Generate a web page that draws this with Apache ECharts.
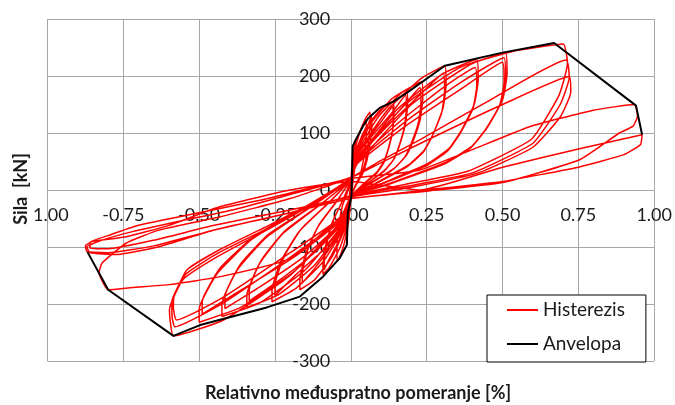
<!DOCTYPE html>
<html>
<head>
<meta charset="utf-8">
<script src="https://cdn.jsdelivr.net/npm/echarts@6/dist/echarts.min.js"></script>
<style>
  html, body { margin: 0; padding: 0; background: #fff; }
  #chart { width: 675px; height: 405px; }
</style>
</head>
<body>
<div id="chart"></div>
<script>
// Drift [%] / force [kN] pairs, one array per loading stage.
const stageSmall = [
  [0,0],[0.004,40],[0.012,80],[0.015,88],[0.016,70],[0.012,35],[0.006,10],[0,-10],[-0.004,-35],[-0.01,-62],[-0.012,-70],[-0.012,-55],[-0.008,-25],[-0.003,0],[0,15],
  [0.004,45],[0.02,85],[0.038,112],[0.05,123],[0.051,105],[0.045,65],[0.03,25],[0.012,5],[0,-15],[-0.006,-50],[-0.02,-90],[-0.035,-115],[-0.045,-125],[-0.046,-105],[-0.04,-65],[-0.028,-28],[-0.012,-5],[0,18]
];
const stage010 = [
  [0.005,50],[0.025,95],[0.048,125],[0.063,137],[0.064,117],[0.058,85],[0.05,55],[0.038,32],[0.015,8],[0,-12],[-0.008,-55],[-0.035,-100],[-0.07,-135],[-0.092,-148],[-0.092,-133],[-0.081,-93],[-0.06,-55],[-0.024,-15],[0,20],
  [0.005,45],[0.03,80],[0.055,112],[0.068,130],[0.069,110],[0.063,80],[0.053,52],[0.04,30],[0.016,7],[0,-12],[-0.01,-50],[-0.04,-90],[-0.07,-120],[-0.088,-140],[-0.088,-126],[-0.077,-88],[-0.057,-52],[-0.023,-14],[0,18]
];
const stage015 = [
  [0.006,55],[0.05,110],[0.1,142],[0.14,156],[0.142,133],[0.137,103],[0.123,72],[0.109,50],[0.085,31],[0.034,7],[0,-12],[-0.01,-55],[-0.06,-115],[-0.12,-158],[-0.168,-175],[-0.168,-158],[-0.148,-110],[-0.109,-65],[-0.044,-18],[0,20],
  [0.006,50],[0.05,85],[0.1,120],[0.138,146],[0.14,124],[0.135,96],[0.121,67],[0.108,47],[0.084,29],[0.033,6],[0,-12],[-0.01,-50],[-0.06,-95],[-0.12,-138],[-0.16,-163],[-0.16,-147],[-0.141,-103],[-0.104,-60],[-0.042,-16],[0,20]
];
const stage020 = [
  [0.008,55],[0.07,120],[0.135,160],[0.184,176],[0.187,150],[0.18,116],[0.162,81],[0.144,56],[0.112,35],[0.045,8],[0,-12],[-0.012,-55],[-0.09,-125],[-0.18,-172],[-0.26,-196],[-0.26,-176],[-0.229,-123],[-0.169,-72],[-0.068,-20],[0,20],
  [0.008,50],[0.07,95],[0.135,135],[0.18,166],[0.183,141],[0.176,110],[0.158,76],[0.14,53],[0.11,33],[0.044,8],[0,-12],[-0.012,-50],[-0.09,-105],[-0.18,-148],[-0.25,-185],[-0.25,-166],[-0.22,-117],[-0.163,-68],[-0.065,-18],[0,20]
];
const stage025 = [
  [0.01,55],[0.09,128],[0.17,172],[0.234,190],[0.237,161],[0.229,125],[0.206,87],[0.183,61],[0.143,38],[0.055,9],[0,-12],[-0.015,-55],[-0.12,-132],[-0.24,-184],[-0.343,-206],[-0.343,-185],[-0.302,-130],[-0.223,-76],[-0.089,-21],[0,20],
  [0.01,50],[0.09,100],[0.17,145],[0.228,180],[0.231,153],[0.223,119],[0.2,83],[0.178,58],[0.139,36],[0.055,8],[0,-12],[-0.015,-50],[-0.12,-110],[-0.24,-160],[-0.335,-195],[-0.335,-175],[-0.295,-123],[-0.218,-72],[-0.087,-20],[0,20]
];
const stage030 = [
  [0.012,55],[0.12,140],[0.23,195],[0.31,218],[0.314,185],[0.304,144],[0.273,100],[0.242,70],[0.19,44],[0.075,10],[0,-12],[-0.02,-55],[-0.15,-140],[-0.3,-198],[-0.425,-222],[-0.425,-200],[-0.374,-140],[-0.276,-82],[-0.11,-22],[0,20],
  [0.012,50],[0.12,112],[0.23,168],[0.305,205],[0.309,174],[0.299,135],[0.268,94],[0.238,66],[0.186,41],[0.075,9],[0,-12],[-0.02,-50],[-0.15,-115],[-0.3,-170],[-0.415,-208],[-0.415,-187],[-0.365,-131],[-0.27,-77],[-0.108,-21],[0,20]
];
const stage040 = [
  [0.015,50],[0.15,140],[0.3,203],[0.415,229],[0.42,195],[0.407,151],[0.365,105],[0.324,73],[0.253,46],[0.1,11],[0,-12],[-0.02,-50],[-0.18,-140],[-0.36,-205],[-0.5,-232],[-0.5,-209],[-0.44,-146],[-0.325,-86],[-0.13,-23],[0,20],
  [0.015,48],[0.15,115],[0.3,178],[0.41,215],[0.415,183],[0.402,142],[0.36,99],[0.32,69],[0.25,43],[0.1,10],[0,-12],[-0.02,-48],[-0.18,-115],[-0.36,-175],[-0.49,-218],[-0.49,-196],[-0.431,-137],[-0.318,-81],[-0.127,-22],[0,20]
];
const stage050 = [
  [0.018,50],[0.18,150],[0.36,215],[0.51,240],[0.515,205],[0.5,158],[0.45,110],[0.4,77],[0.31,48],[0.13,12],[0,-12],[-0.025,-50],[-0.2,-150],[-0.42,-228],[-0.585,-256],[-0.595,-232],[-0.598,-210],[-0.553,-157],[-0.44,-117],[-0.276,-70],[-0.12,-22],[0,22],
  [0.018,48],[0.18,120],[0.36,188],[0.505,232],[0.51,198],[0.495,153],[0.445,107],[0.395,74],[0.31,46],[0.13,11],[0,-12],[-0.025,-48],[-0.2,-118],[-0.42,-198],[-0.58,-240],[-0.59,-218],[-0.59,-196],[-0.545,-148],[-0.435,-110],[-0.27,-66],[-0.115,-20],[0,22],
  [0.018,45],[0.18,112],[0.36,176],[0.5,224],[0.505,190],[0.49,148],[0.44,103],[0.39,72],[0.305,45],[0.125,10],[0,-12],[-0.025,-45],[-0.2,-110],[-0.42,-188],[-0.575,-228],[-0.585,-206],[-0.583,-186],[-0.54,-140],[-0.43,-104],[-0.27,-62],[-0.11,-18],[0,22]
];
const stage075 = [
  [0.02,45],[0.2,150],[0.4,222],[0.55,245],[0.7,256],[0.714,222],[0.686,166],[0.595,89],[0.385,33],[0.21,13],[0,-12],[-0.03,-45],[-0.2,-120],[-0.43,-152],[-0.6,-166],[-0.72,-171],[-0.8,-175],[-0.83,-145],[-0.82,-128],[-0.74,-93],[-0.63,-70],[-0.43,-47],[-0.2,-15],[0,22],
  [0.1,52],[0.227,88],[0.45,155],[0.71,228],[0.72,198],[0.69,150],[0.6,82],[0.4,30],[0.2,8],[0,-10],[-0.2,-40],[-0.45,-70],[-0.63,-99],[-0.77,-113],[-0.86,-110],[-0.87,-100],[-0.82,-88],[-0.72,-73],[-0.54,-52],[-0.39,-35],[-0.2,-8],[0,22],
  [0.1,48],[0.3,100],[0.5,150],[0.72,199],[0.725,172],[0.69,128],[0.6,75],[0.42,30],[0.2,5],[0,-12],[-0.2,-35],[-0.45,-62],[-0.65,-88],[-0.8,-103],[-0.86,-102],[-0.86,-92],[-0.8,-80],[-0.7,-62],[-0.5,-40],[-0.3,-18],[0,20]
];
const stage100 = [
  [0.227,35],[0.589,111],[0.8,140],[0.935,150],[0.945,130],[0.93,112],[0.885,100],[0.754,53],[0.5,13],[0.25,-2],[0,-15],[-0.2,-40],[-0.45,-70],[-0.65,-98],[-0.8,-110],[-0.87,-108],[-0.875,-98],[-0.85,-90],[-0.74,-82],[-0.6,-62],[-0.43,-29],[-0.2,0],[0,15],
  [0.227,0],[0.5,40],[0.75,72],[0.96,97],[0.955,80],[0.9,62],[0.75,40],[0.5,15],[0.25,0],[0,-15]
];

// Envelope of the peak responses
const envelope = [
  [-0.868,-109],[-0.8,-175],[-0.585,-256],[-0.497,-237],[-0.277,-206],[-0.168,-187],[-0.092,-152],
  [-0.036,-119],[-0.013,-96],[-0.01,-40],[0.002,-11],[0.006,77],[0.019,91],[0.04,112],[0.057,126],
  [0.095,144],[0.14,155],[0.183,170],[0.31,218],[0.5,241],[0.67,258],[0.94,148],[0.96,97]
];

const xTicks = [-1, -0.75, -0.5, -0.25, 0, 0.25, 0.5, 0.75, 1];
const yTicks = [-300, -200, -100, 0, 100, 200, 300];
const seriesNames = ['Histerezis', 'Anvelopa'];
const xTitle = 'Relativno međuspratno pomeranje [%]';
const yTitle = 'Sila  [kN]';

const hysteresis = [].concat(stageSmall, stage010, stage015, stage020, stage025,
                             stage030, stage040, stage050, stage075, stage100);

const FONT = 'Lato, "Open Sans", sans-serif';
const GRID_COLOR = '#a6a6a6';

// Plot rectangle; the axes cross at the origin, so each axis is shifted
// from the plot edge to the zero line of the other one.
const PLOT = { left: 47.5, top: 19, width: 607.5, height: 342 };
const xZeroOffset = -PLOT.height * (0 - yTicks[0]) / (yTicks[yTicks.length - 1] - yTicks[0]);
const yZeroOffset = -PLOT.width * (0 - xTicks[0]) / (xTicks[xTicks.length - 1] - xTicks[0]);

const chart = echarts.init(document.getElementById('chart'), null, { renderer: 'canvas' });
chart.setOption({
  animation: false,
  backgroundColor: '#ffffff',
  grid: { left: PLOT.left, top: PLOT.top, width: PLOT.width, height: PLOT.height, containLabel: false },
  xAxis: {
    type: 'value', position: 'bottom', offset: xZeroOffset,
    min: xTicks[0], max: xTicks[xTicks.length - 1], interval: 0.25,
    axisLine: { show: true, onZero: false, lineStyle: { color: GRID_COLOR, width: 1 } },
    axisTick: { show: false },
    splitLine: { show: true, lineStyle: { color: GRID_COLOR, width: 1 } },
    axisLabel: {
      margin: 16, color: '#1a1a1a', fontFamily: FONT, fontSize: 18,
      formatter: v => v.toFixed(2)
    }
  },
  yAxis: {
    type: 'value', position: 'left', offset: yZeroOffset,
    min: yTicks[0], max: yTicks[yTicks.length - 1], interval: 100,
    axisLine: { show: true, onZero: false, lineStyle: { color: GRID_COLOR, width: 1 } },
    axisTick: { show: false },
    splitLine: { show: true, lineStyle: { color: GRID_COLOR, width: 1 } },
    axisLabel: {
      margin: 21, color: '#1a1a1a', fontFamily: FONT, fontSize: 18,
      formatter: v => String(v)
    }
  },
  legend: {
    orient: 'vertical',
    left: 487, top: 295,
    padding: [4, 21, 7, 20],
    itemGap: 12,
    itemWidth: 31, itemHeight: 2,
    backgroundColor: '#ffffff',
    borderColor: '#000000', borderWidth: 1, borderRadius: 0,
    textStyle: { fontFamily: FONT, fontSize: 19, lineHeight: 22, color: '#1a1a1a' },
    data: [
      { name: seriesNames[0], icon: 'rect' },
      { name: seriesNames[1], icon: 'rect' }
    ]
  },
  graphic: [
    {
      type: 'text', x: 358, y: 393, z: 100,
      style: { text: xTitle, font: 'bold 18px ' + FONT, fill: '#1a1a1a', align: 'center', verticalAlign: 'middle' }
    },
    {
      type: 'text', x: 21, y: 189, rotation: Math.PI / 2, z: 100,
      style: {
        text: yTitle, font: 'bold 18px ' + FONT, fill: '#1a1a1a', align: 'center', verticalAlign: 'middle',
        backgroundColor: '#ffffff', padding: [2, 4]
      }
    }
  ],
  series: [
    {
      name: seriesNames[0], type: 'line', data: hysteresis,
      showSymbol: false, smooth: 0.15, z: 3,
      lineStyle: { color: '#ff0000', width: 1.5 },
      itemStyle: { color: '#ff0000' }
    },
    {
      name: seriesNames[1], type: 'line', data: envelope,
      showSymbol: false, z: 4,
      lineStyle: { color: '#000000', width: 2 },
      itemStyle: { color: '#000000' }
    }
  ]
});
</script>
</body>
</html>
